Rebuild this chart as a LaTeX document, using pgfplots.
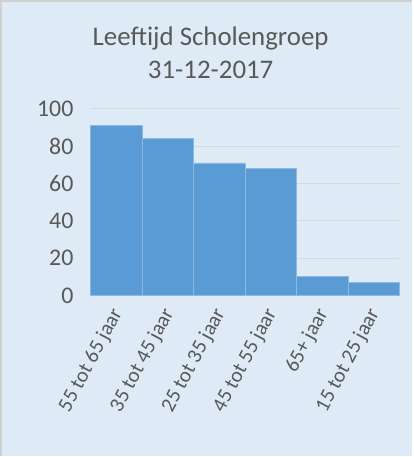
\documentclass[border=0pt]{standalone}
\usepackage{pgfplots}
\pgfplotsset{compat=1.18}
\usepackage{fontspec}
\setmainfont{Carlito}
\definecolor{bg}{HTML}{DEEAF6}
\definecolor{barc}{HTML}{5B9BD5}
\definecolor{baredge}{HTML}{8CB9E3}
\definecolor{txt}{HTML}{595959}
\definecolor{gridc}{HTML}{D5D9DD}
\definecolor{frame}{HTML}{D0D0D0}
\begin{document}
\begin{tikzpicture}[x=1bp,y=1bp]
\fill[bg] (0,0) rectangle (413,457);
\draw[frame,line width=1.5bp] (1,0) -- (1,456) -- (413,456);
\node[txt,font=\fontsize{27}{33}\selectfont,align=center] at (211,404) {Leeftijd Scholengroep\\31-12-2017};
\begin{axis}[
  at={(91bp,161bp)}, anchor=south west,
  scale only axis, width=309bp, height=187bp,
  xmin=-0.5, xmax=5.5, ymin=0, ymax=100,
  ybar, bar width=51.5bp, bar shift=0pt,
  axis line style={draw=none},
  ytick={0,20,40,60,80,100},
  ymajorgrids, grid style={gridc,line width=1.2bp},
  major tick length=0pt,
  xtick={0,1,2,3,4,5},
  xticklabels={55 tot 65 jaar,35 tot 45 jaar,25 tot 35 jaar,45 tot 55 jaar,65+ jaar,15 tot 25 jaar},
  xticklabel style={font=\fontsize{21}{25}\selectfont, text=txt, rotate=62, anchor=east, xshift=-9bp, yshift=-8bp},
  y tick label style={font=\fontsize{24}{28}\selectfont, text=txt, xshift=-14bp},
  /pgf/number format/assume math mode=true,
  clip=false,
]
\addplot[fill=barc, draw=baredge, line width=0.8bp] coordinates {(0,91) (1,84) (2,71) (3,68) (4,10) (5,7)};
\end{axis}
\end{tikzpicture}
\end{document}
